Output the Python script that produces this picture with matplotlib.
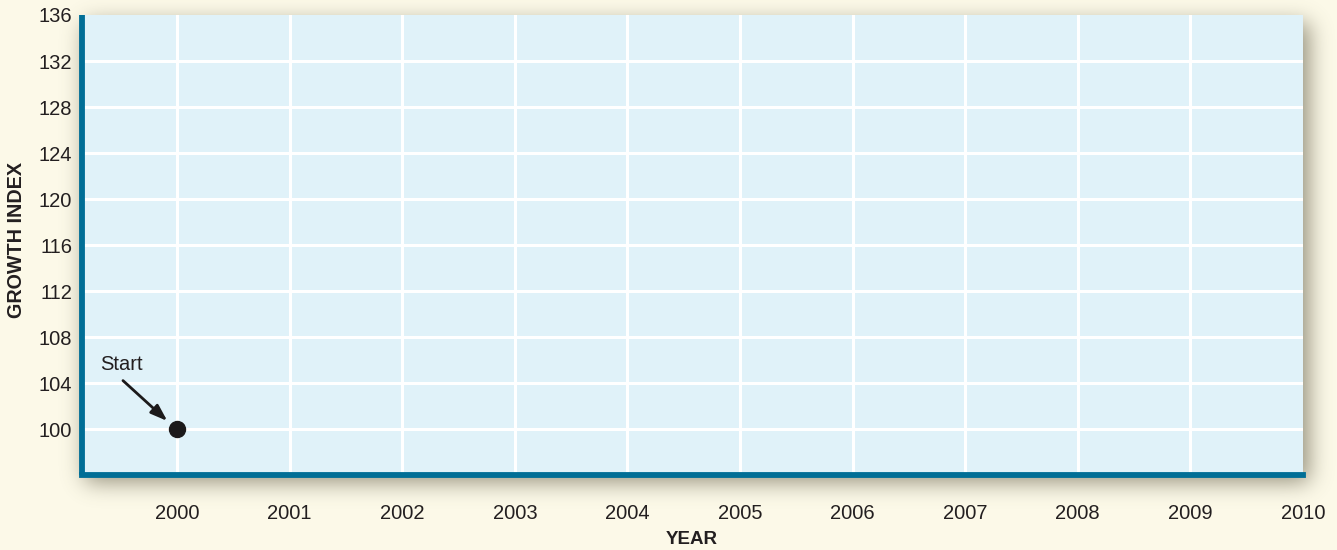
import matplotlib
matplotlib.use("Agg")
import numpy as np
import matplotlib.pyplot as plt

plt.rcParams['font.family'] = ['Liberation Sans', 'DejaVu Sans']

years = list(range(2000, 2011))
year_labels = [str(y) for y in years]
index_ticks = list(range(100, 137, 4))
start_year = [2000]
start_value = [100]

bg = '#fcf9e8'
panel = '#e0f2f9'
spine = '#006e96'
ink = '#231f20'

fig = plt.figure(figsize=(13.37, 5.5), dpi=100, facecolor=bg)
W, H = 1337, 550
left, right, top, bottom = 82, 1303, 15, 474.5
ax = fig.add_axes([left / W, 1 - bottom / H, (right - left) / W, (bottom - top) / H])
ax.set_zorder(2)


def blurred_panel_shadow(dx, dy, sigma, strength):
    """Gaussian-blurred copy of the panel footprint, offset by (dx, dy) pixels."""
    mask = np.zeros((H, W))
    mask[int(top + dy):int(bottom + dy), int(left - 3 + dx):int(right + dx)] = 1.0
    k = np.arange(-3 * sigma, 3 * sigma + 1)
    kern = np.exp(-0.5 * (k / sigma) ** 2)
    kern /= kern.sum()
    mask = np.apply_along_axis(lambda r: np.convolve(r, kern, mode='same'), 1, mask)
    mask = np.apply_along_axis(lambda c: np.convolve(c, kern, mode='same'), 0, mask)
    rgba = np.zeros((H, W, 4))
    rgba[..., :3] = np.array([0x55, 0x50, 0x3a]) / 255.0
    rgba[..., 3] = mask * strength
    return rgba


# figimage uses the 'upper' origin, so row 0 is the top of the figure
fig.figimage(blurred_panel_shadow(6, 8, 11, 0.62), xo=0, yo=0, zorder=1)

ax.set_facecolor(panel)
ax.set_xlim(1999.156, 2010)
ax.set_ylim(96.07, 136)

ax.set_xticks(years)
ax.set_xticklabels(year_labels)
ax.set_yticks(index_ticks)
ax.grid(True, color='white', linewidth=2.2)
ax.set_axisbelow(True)
# the outermost grid lines coincide with the panel edge
ax.xaxis.get_gridlines()[-1].set_visible(False)
ax.yaxis.get_gridlines()[-1].set_visible(False)

for s in ['top', 'right']:
    ax.spines[s].set_visible(False)
for s in ['left', 'bottom']:
    ax.spines[s].set_color(spine)
    ax.spines[s].set_linewidth(4.2)
ax.spines['bottom'].set_capstyle('projecting')
ax.spines['left'].set_capstyle('butt')

ax.tick_params(axis='both', length=0, labelsize=14.5, colors=ink)
ax.tick_params(axis='x', pad=21)
ax.tick_params(axis='y', pad=7)

fig.text(692 / W, 1 - 540 / H, 'YEAR', fontsize=13.5, fontweight='bold',
         color=ink, ha='center', va='center')
fig.text(17 / W, 1 - 240 / H, 'GROWTH INDEX', fontsize=14.2, fontweight='bold',
         color=ink, ha='center', va='center', rotation=90)

ax.plot(start_year, start_value, 'o', color='#1c1a1b', markersize=11.5, zorder=5, clip_on=False)
ax.annotate('', xy=(1999.914, 100.72), xytext=(1999.52, 104.23),
            arrowprops=dict(arrowstyle='-|>,head_length=1.0,head_width=0.35',
                            color='#1c1a1b', lw=2, shrinkA=0, shrinkB=0))
ax.text(1999.507, 105.64, 'Start', fontsize=14.5, color=ink, ha='center', va='center')

fig.savefig('out.png', dpi=100, facecolor=bg)
